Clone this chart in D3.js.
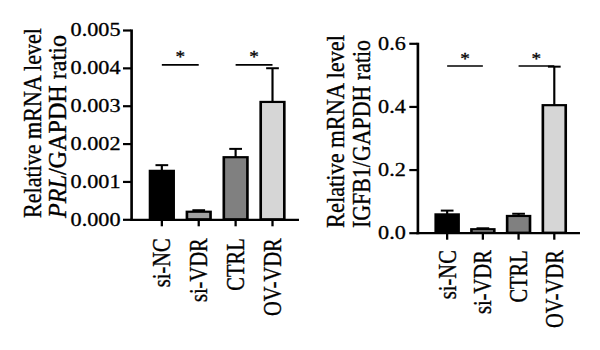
<!DOCTYPE html>
<html>
<head>
<meta charset="utf-8">
<script src="https://cdn.jsdelivr.net/npm/d3@7"></script>
<style>
  body { margin: 0; background: #fff; }
  svg text { stroke: #000; stroke-width: 0.3px; }
</style>
</head>
<body>
<div id="chart"></div>
<script>
// group names and bar fills
const categories = ["si-NC", "si-VDR", "CTRL", "OV-VDR"];
const barColors = ["#000000", "#a3a3a3", "#808080", "#d6d6d6"];

// PRL / GAPDH (mean and upper error)
const prlMean = [0.00128, 0.00020, 0.00164, 0.00310];
const prlErr = [0.00015, 0.00004, 0.00022, 0.00089];
const prlTicks = [0, 0.001, 0.002, 0.003, 0.004, 0.005];
const prlSigLevel = 0.00408;

// IGFB1 / GAPDH
const igfMean = [0.058, 0.011, 0.053, 0.404];
const igfErr = [0.012, 0.003, 0.007, 0.122];
const igfTicks = [0, 0.2, 0.4, 0.6];
const igfSigLevel = 0.528;

// pairs marked with a star
const sigPairs = [["si-NC", "si-VDR"], ["CTRL", "OV-VDR"]];

const FONT = '"Liberation Serif", "Times New Roman", serif';
const SX = 1.2;   // the figure is a bit wider than tall in the original

const svg = d3.select("#chart")
    .append("svg")
    .attr("width", 600)
    .attr("height", 350);

const root = svg.append("g").attr("transform", `scale(${SX},1)`);

const panels = [
    {
        mean: prlMean, err: prlErr, ticks: prlTicks, fmt: d3.format(".3f"), sig: prlSigLevel,
        left: 131, right: 297, top: 30, bottom: 219.3, tickPad: 2.5, labelGap: 19,
        title: [
            { x: 32, len: 190, parts: [["Relative mRNA level", false]] },
            { x: 57, len: 183, parts: [["PRL", true], ["/GAPDH ratio", false]] }
        ],
        titleBottom: 218
    },
    {
        mean: igfMean, err: igfErr, ticks: igfTicks, fmt: d3.format(".1f"), sig: igfSigLevel,
        left: 417.3, right: 578, top: 43.3, bottom: 232.7, tickPad: 3.5, labelGap: 17.5,
        title: [
            { x: 335, len: 193, parts: [["Relative mRNA level", false]] },
            { x: 361.7, len: 188, parts: [["IGFB1/GAPDH ratio", false]] }
        ],
        titleBottom: 228
    }
];

panels.forEach(p => drawPanel(root.append("g"), p));

function drawPanel(g, p) {
    const x = d3.scaleBand()
        .domain(categories)
        .range([p.left / SX, p.right / SX])
        .paddingInner(0.36)
        .paddingOuter(0.43)
        .align(0.6);
    const y = d3.scaleLinear()
        .domain([0, d3.max(p.ticks)])
        .range([p.bottom, p.top]);

    const data = categories.map((c, i) => ({ c: c, m: p.mean[i], e: p.err[i], fill: barColors[i] }));
    const cx = d => x(d.c) + x.bandwidth() / 2;

    // error bars (upper only)
    g.append("g")
        .selectAll("line")
        .data(data)
        .enter()
        .append("line")
        .attr("x1", cx).attr("x2", cx)
        .attr("y1", d => y(d.m)).attr("y2", d => y(d.m + d.e))
        .attr("stroke", "#000")
        .attr("stroke-width", 1.8);
    g.append("g")
        .selectAll("line")
        .data(data)
        .enter()
        .append("line")
        .attr("x1", d => cx(d) - 5.3).attr("x2", d => cx(d) + 5.3)
        .attr("y1", d => y(d.m + d.e)).attr("y2", d => y(d.m + d.e))
        .attr("stroke", "#000")
        .attr("stroke-width", 2);

    // bars
    g.append("g")
        .selectAll("rect")
        .data(data)
        .enter()
        .append("rect")
        .attr("x", d => x(d.c))
        .attr("width", x.bandwidth())
        .attr("y", d => y(d.m))
        .attr("height", d => y(0) - y(d.m))
        .attr("fill", d => d.fill)
        .attr("stroke", "#000")
        .attr("stroke-width", 2.2);

    // x axis
    const gx = g.append("g")
        .attr("transform", `translate(0,${y(0)})`)
        .call(d3.axisBottom(x).tickSize(7).tickSizeOuter(0));
    gx.select(".domain").attr("stroke-width", 2.3).attr("stroke-linecap", "square");
    gx.selectAll(".tick line").attr("stroke-width", 1.9);
    gx.selectAll(".tick text")
        .attr("font-family", FONT)
        .attr("font-size", 20.5)
        .attr("fill", "#000")
        .attr("text-anchor", "end")
        .attr("transform", "rotate(-90)")
        .attr("x", -p.labelGap)
        .attr("y", 0)
        .attr("dy", "0.35em");

    // y axis
    const gy = g.append("g")
        .attr("transform", `translate(${p.left / SX},0)`)
        .call(d3.axisLeft(y).tickValues(p.ticks).tickFormat(p.fmt)
            .tickSize(8 / SX).tickPadding(p.tickPad / SX).tickSizeOuter(0));
    gy.select(".domain").attr("stroke-width", 2.2).attr("stroke-linecap", "square");
    gy.selectAll(".tick line").attr("stroke-width", 2.2);
    gy.selectAll(".tick text")
        .attr("font-family", FONT)
        .attr("font-size", 18.5)
        .attr("fill", "#000");

    // y title, two rotated lines
    p.title.forEach(t => {
        const txt = g.append("text")
            .attr("transform", `translate(${t.x / SX},${p.titleBottom}) rotate(-90)`)
            .attr("font-family", FONT)
            .attr("font-size", 21)
            .attr("text-anchor", "start")
            .attr("dominant-baseline", "central")
            .attr("textLength", t.len)
            .attr("lengthAdjust", "spacingAndGlyphs");
        t.parts.forEach(([s, it]) => {
            txt.append("tspan").attr("font-style", it ? "italic" : "normal").text(s);
        });
    });

    // significance lines and stars
    const sg = g.append("g");
    sigPairs.forEach(([a, b]) => {
        const x1 = x(a) + x.bandwidth() / 2,
              x2 = x(b) + x.bandwidth() / 2;
        sg.append("line")
            .attr("x1", x1).attr("x2", x2)
            .attr("y1", y(p.sig)).attr("y2", y(p.sig))
            .attr("stroke", "#000")
            .attr("stroke-width", 1.6);
        sg.append("text")
            .attr("x", (x1 + x2) / 2)
            .attr("y", y(p.sig) - 2.5)
            .attr("text-anchor", "middle")
            .attr("font-family", FONT)
            .attr("font-size", 16)
            .text("*");
    });
}
</script>
</body>
</html>
